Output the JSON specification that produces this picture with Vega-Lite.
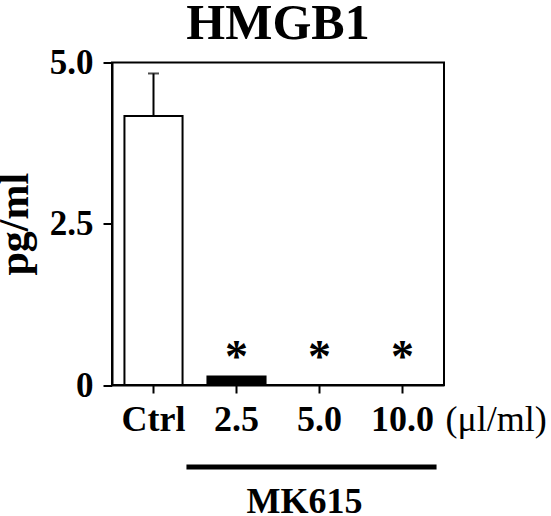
{
  "$schema": "https://vega.github.io/schema/vega-lite/v6.json",
  "width": 332,
  "height": 322.5,
  "autosize": "none",
  "padding": {"left": 112, "top": 62.5, "right": 107, "bottom": 131},
  "background": "white",
  "title": {
    "text": "HMGB1",
    "font": "Liberation Serif",
    "fontSize": 50,
    "fontWeight": "bold",
    "color": "black",
    "offset": -3,
    "anchor": "middle"
  },
  "config": {
    "font": "Liberation Serif",
    "view": {"stroke": "black", "strokeWidth": 2},
    "axis": {
      "domainColor": "black",
      "domainWidth": 2,
      "tickColor": "black",
      "tickWidth": 2,
      "grid": false,
      "labelFont": "Liberation Serif",
      "labelFontWeight": "bold",
      "labelColor": "black",
      "titleFont": "Liberation Serif",
      "titleColor": "black"
    }
  },
  "data": {
    "values": [
      {"group": "Ctrl", "value": 4.17, "upper": 4.83, "sig": ""},
      {"group": "2.5", "value": 0.13, "upper": null, "sig": "*"},
      {"group": "5.0", "value": 0.0, "upper": null, "sig": "*"},
      {"group": "10.0", "value": 0.0, "upper": null, "sig": "*"}
    ]
  },
  "encoding": {
    "x": {
      "field": "group",
      "type": "nominal",
      "scale": {"domain": ["Ctrl", "2.5", "5.0", "10.0"], "paddingInner": 0.3, "paddingOuter": 0.15},
      "axis": {
        "labelAngle": 0,
        "labelFontSize": 36,
        "labelPadding": 9,
        "tickSize": 8,
        "title": "(μl/ml)",
        "titleFontSize": 36,
        "titleFontWeight": "normal",
        "titleAnchor": null,
        "titleAlign": "left",
        "titleBaseline": "alphabetic",
        "titleX": 333,
        "titleY": 45
      }
    }
  },
  "layer": [
    {
      "mark": {"type": "bar", "stroke": "black", "strokeWidth": 2},
      "encoding": {
        "y": {
          "field": "value",
          "type": "quantitative",
          "scale": {"domain": [0, 5], "nice": false, "zero": true},
          "axis": {
            "values": [0, 2.5, 5],
            "labelExpr": "datum.value == 0 ? '0' : format(datum.value, '.1f')",
            "labelFontSize": 35,
            "labelPadding": 10,
            "tickSize": 9,
            "title": "pg/ml",
            "titleFontSize": 42,
            "titleFontWeight": "bold",
            "titlePadding": 13
          }
        },
        "fill": {
          "field": "group",
          "type": "nominal",
          "scale": {"domain": ["Ctrl", "2.5", "5.0", "10.0"], "range": ["white", "black", "black", "black"]},
          "legend": null
        }
      }
    },
    {
      "mark": {"type": "rule", "color": "black", "strokeWidth": 2},
      "encoding": {
        "y": {"field": "value", "type": "quantitative"},
        "y2": {"field": "upper"}
      },
      "transform": [{"filter": "datum.upper != null"}]
    },
    {
      "mark": {"type": "tick", "color": "black", "thickness": 2, "size": 11},
      "encoding": {
        "y": {"field": "upper", "type": "quantitative"}
      },
      "transform": [{"filter": "datum.upper != null"}]
    },
    {
      "mark": {"type": "text", "fontSize": 46, "fontWeight": "bold", "baseline": "alphabetic", "color": "black"},
      "encoding": {
        "y": {"datum": 0.2, "type": "quantitative"},
        "text": {"field": "sig"}
      }
    },
    {
      "data": {"values": [{"from": "2.5", "to": "10.0", "level": -1.27}]},
      "mark": {"type": "rule", "color": "black", "strokeWidth": 5, "xOffset": -21, "x2Offset": 5},
      "encoding": {
        "x": {"field": "from", "type": "nominal", "bandPosition": 0},
        "x2": {"field": "to", "bandPosition": 1},
        "y": {"field": "level", "type": "quantitative"}
      }
    },
    {
      "data": {"values": [{"pos": "5.0", "label": "MK615", "level": -1.98}]},
      "mark": {"type": "text", "fontSize": 36, "fontWeight": "bold", "baseline": "alphabetic", "color": "black", "dx": -15},
      "encoding": {
        "x": {"field": "pos", "type": "nominal"},
        "y": {"field": "level", "type": "quantitative"},
        "text": {"field": "label"}
      }
    }
  ]
}
